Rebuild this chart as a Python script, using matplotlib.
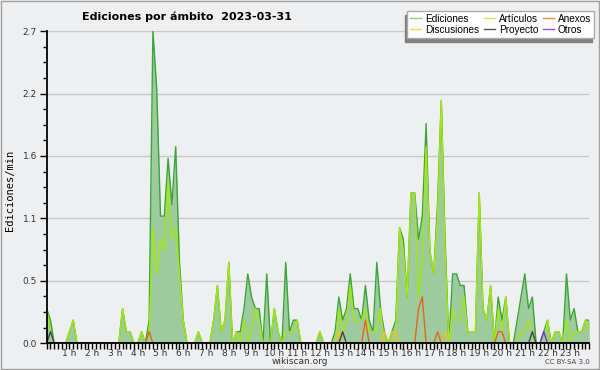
import numpy as np
import matplotlib
matplotlib.use("Agg")
import matplotlib.pyplot as plt
from matplotlib.lines import Line2D
from matplotlib.patches import Rectangle
from matplotlib.ticker import FormatStrFormatter

# edits per minute, one value every 10 minutes (0:00 .. 23:50)
ediciones = [
    0.3, 0.2, 0, 0, 0, 0, 0.1, 0.2, 0, 0, 0, 0,
    0, 0, 0, 0, 0, 0, 0, 0, 0.3, 0.1, 0.1, 0,
    0, 0.1, 0, 0.2, 2.7, 2.2, 1.1, 1.1, 1.6, 1.2, 1.7, 0.7,
    0.2, 0, 0, 0, 0.1, 0, 0, 0, 0.2, 0.5, 0.1, 0.2,
    0.7, 0, 0.1, 0.1, 0.3, 0.6, 0.4, 0.3, 0.3, 0, 0.6, 0,
    0.3, 0.1, 0, 0.7, 0.1, 0.2, 0.2, 0, 0, 0, 0, 0,
    0.1, 0, 0, 0, 0.1, 0.4, 0.2, 0.3, 0.6, 0.3, 0.3, 0.2,
    0.5, 0.2, 0.1, 0.7, 0.3, 0.1, 0, 0.1, 0.2, 1.0, 0.9, 0.4,
    1.3, 1.3, 0.9, 1.1, 1.9, 0.8, 0.6, 1.2, 2.1, 0.9, 0, 0.6,
    0.6, 0.5, 0.5, 0.1, 0.1, 0.1, 1.3, 0.3, 0.2, 0.5, 0, 0.4,
    0.2, 0.4, 0, 0, 0.2, 0.4, 0.6, 0.3, 0.4, 0, 0, 0.1,
    0.2, 0, 0.1, 0.1, 0, 0.6, 0.2, 0.3, 0.1, 0.1, 0.2, 0.2,
]
articulos = [
    0.3, 0.1, 0, 0, 0, 0, 0.1, 0.2, 0, 0, 0, 0,
    0, 0, 0, 0, 0, 0, 0, 0, 0.3, 0.1, 0.1, 0,
    0, 0.1, 0, 0.1, 1.0, 0.6, 0.9, 0.8, 1.4, 0.9, 1.0, 0.6,
    0.2, 0, 0, 0, 0.1, 0, 0, 0, 0.2, 0.5, 0.1, 0.2,
    0.7, 0, 0.1, 0, 0.2, 0, 0.1, 0.3, 0.2, 0, 0, 0,
    0.3, 0.1, 0, 0.1, 0.1, 0.1, 0.2, 0, 0, 0, 0, 0,
    0.1, 0, 0, 0, 0, 0.3, 0.1, 0.2, 0.5, 0.2, 0.2, 0.2,
    0.3, 0.1, 0.1, 0.1, 0.3, 0, 0, 0.1, 0.1, 1.0, 0.8, 0.4,
    1.3, 1.3, 0.4, 0.7, 1.7, 0.8, 0.6, 1.1, 2.1, 0.8, 0, 0.3,
    0.2, 0.2, 0.4, 0.1, 0.1, 0.1, 1.3, 0.3, 0.2, 0.5, 0, 0.3,
    0.1, 0.4, 0, 0, 0, 0.1, 0.1, 0.2, 0.1, 0, 0, 0,
    0.2, 0, 0.1, 0.1, 0, 0.2, 0, 0.1, 0.1, 0.1, 0.2, 0.1,
]
# sparse series: slot index -> value
anexos_idx = [27, 84, 98, 99, 103, 119, 120]
anexos_val = [0.1, 0.2, 0.3, 0.4, 0.1, 0.1, 0.1]
discusiones_idx = [77, 89, 92, 105]
discusiones_val = [0.1, 0.1, 0.1, 0.1]
proyecto_idx = [1, 78, 128]
proyecto_val = [0.1, 0.1, 0.1]
otros_idx = [131]
otros_val = [0.1]

hours = list(range(1, 24))

n = len(ediciones)
x = np.arange(n)


def sparse(idx, val):
    s = np.zeros(n)
    s[idx] = val
    return s


bg = "#eeeff1"
fig = plt.figure(figsize=(6, 3.7), dpi=100, facecolor=bg)
ax = fig.add_axes([0.0778, 0.0722, 0.9043, 0.8438])
ax.set_facecolor(bg)

ax.fill_between(x, ediciones, color="#9dcb9d", lw=0, zorder=1)
ax.plot(x, ediciones, color="#3aa63a", lw=1.0, zorder=2)
ax.plot(x, articulos, color="#a6e612", lw=1.0, zorder=3)
ax.plot(x, sparse(discusiones_idx, discusiones_val), color="#f2c21e", lw=1.0, zorder=4)
ax.plot(x, sparse(anexos_idx, anexos_val), color="#e8641e", lw=1.0, zorder=4)
ax.plot(x, sparse(proyecto_idx, proyecto_val), color="#444444", lw=1.0, zorder=4)
ax.plot(x, sparse(otros_idx, otros_val), color="#7a2ee6", lw=1.0, zorder=4)

ax.set_xlim(0, n - 1)
ax.set_ylim(0, 2.7)

ax.set_yticks(np.linspace(0, 2.7, 6))
ax.set_yticks(np.linspace(0, 2.7, 21), minor=True)
ax.yaxis.set_major_formatter(FormatStrFormatter("%.1f"))
ax.set_xticks([h * 6 for h in hours])
ax.set_xticklabels([f"{h} h" for h in hours])
ax.set_xticks(x, minor=True)

ax.tick_params(axis="both", labelsize=6.5, colors="#333333", width=1)
ax.tick_params(axis="y", which="major", length=5, pad=2)
ax.tick_params(axis="y", which="minor", length=3, width=1, color="black")
ax.tick_params(axis="x", which="both", length=4, width=1, color="black", pad=0)
ax.tick_params(axis="both", which="major", color="black")

ax.yaxis.grid(True, color="#c8c8c8", lw=1)
ax.set_axisbelow(True)
for side in ["top", "right"]:
    ax.spines[side].set_visible(False)
for side in ["left", "bottom"]:
    ax.spines[side].set_linewidth(1.3)
    ax.spines[side].set_zorder(10)

fig.text(187 / 600, 1 - 17 / 370, "Ediciones por ámbito  2023-03-31",
         ha="center", va="center", fontsize=8, weight="bold")
fig.text(10 / 600, 1 - 190 / 370, "Ediciones/min", rotation=90,
         family="DejaVu Sans Mono", fontsize=7.5, ha="center", va="center")
fig.text(0.5, 1 - 362 / 370, "wikiscan.org", ha="center", va="center",
         fontsize=6.5, color="#333333")
fig.text(590 / 600, 1 - 362 / 370, "CC BY-SA 3.0", ha="right", va="center",
         fontsize=5, color="#444444")

handles = [
    Line2D([], [], color="#88cc88", lw=1),
    Line2D([], [], color="#ffd04a", lw=1),
    Line2D([], [], color="#c8ee50", lw=1),
    Line2D([], [], color="#555555", lw=1),
    Line2D([], [], color="#ff8050", lw=1),
    Line2D([], [], color="#9050ee", lw=1),
]
labels = ["Ediciones", "Discusiones", "Artículos", "Proyecto", "Anexos", "Otros"]
fig.legend(handles, labels, ncol=3, loc="upper right",
           bbox_to_anchor=(594 / 600, 1 - 10.7 / 370),
           prop={"family": "Liberation Sans", "size": 7.2},
           frameon=True, fancybox=False, edgecolor="#aaaaaa", facecolor="white",
           framealpha=1, shadow={"ox": -1.8, "oy": -2.9, "color": "#808080", "alpha": 1},
           handlelength=1.1, handletextpad=0.4, columnspacing=0.45,
           borderpad=0.3, borderaxespad=0, labelspacing=0.12)

fig.patches.append(Rectangle((0.001, 0.002), 0.997, 0.996, transform=fig.transFigure,
                             fill=False, ec="#a0a0a0", lw=1))

fig.savefig("out.png", dpi=100, facecolor=bg)
